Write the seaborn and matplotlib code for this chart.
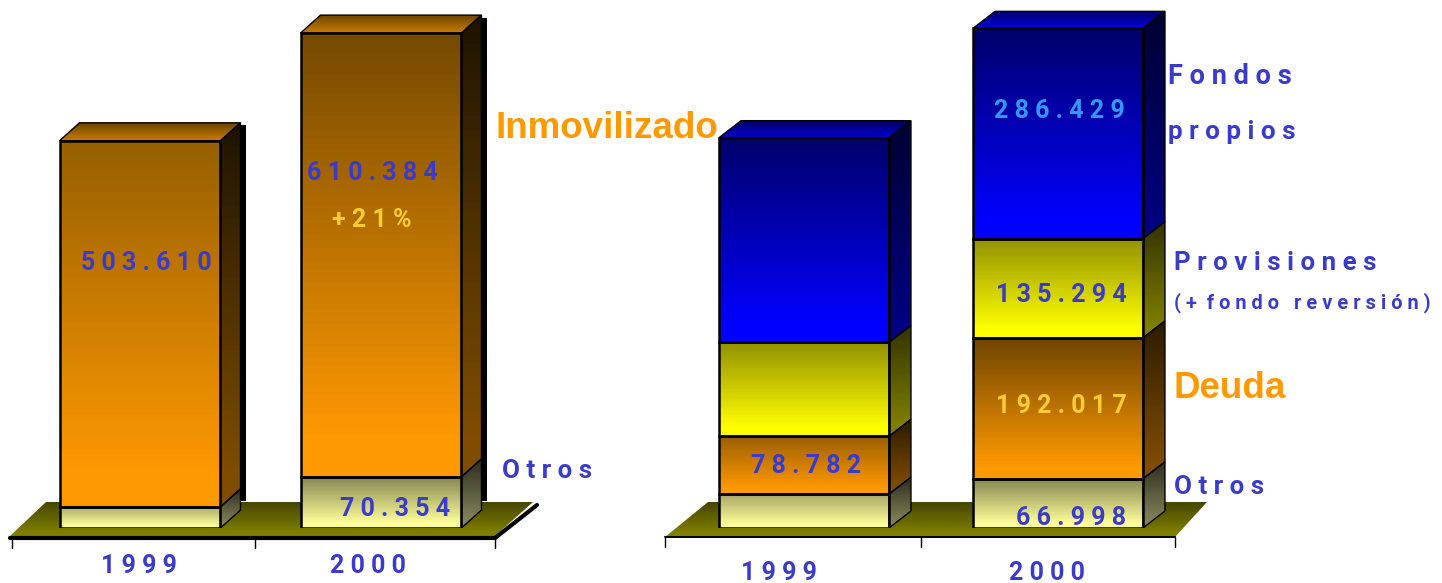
import numpy as np
import pandas as pd
import seaborn as sns
import matplotlib.pyplot as plt
from matplotlib.colors import LinearSegmentedColormap
from matplotlib.patches import Polygon

W, H = 1442, 583

years = ['1999', '2000']

# miles de millones
activo_otros = [29.0, 70.354]
activo_inmov = [503.610, 610.384]

pasivo_otros = [46.0, 66.998]
pasivo_deuda = [78.782, 192.017]
pasivo_provisiones = [128.0, 135.294]
pasivo_fondos = [279.0, 286.429]

# colores: frente arriba (1999, 2000), frente abajo, lateral (arriba, abajo), techo (fondo, delante)
C_OTROS = (('#a8a868', '#858552'), '#ffff99', '#2e2e20', '#85855a', None, None)
C_INMOV = (('#966000', '#754a00'), '#ff9900', '#1f1400', '#804d00', '#704600', '#c27800')
C_DEUDA = (('#9c5f00', '#704600'), '#ff9900', '#2c1c00', '#804d00', None, None)
C_YELLOW = (('#929200', '#929200'), '#ffff00', '#333300', '#808000', None, None)
C_BLUE = (('#00006b', '#00006b'), '#0000ff', '#000033', '#000080', '#000066', '#0000cc')

BLUE = '#3a3acb'
GOLD = '#ffcc33'
ORANGE = '#ff9900'

sns.set_style('white')
plt.rcParams['font.family'] = ['Roboto', 'DejaVu Sans']

fig = plt.figure(figsize=(W / 100, H / 100), dpi=100)


def make_axes(x0, y0, x1, y1, zorder=1):
    ax = fig.add_axes([x0 / W, 1 - y1 / H, (x1 - x0) / W, (y1 - y0) / H], zorder=zorder)
    ax.patch.set_alpha(0)
    return ax


def gradient(ax, verts, c_top, c_bottom, zorder):
    # degradado vertical recortado a un poligono
    cmap = LinearSegmentedColormap.from_list('g', [(0, c_top), (0.92, c_bottom), (1, c_bottom)])
    xs = [v[0] for v in verts]
    ys = [v[1] for v in verts]
    low, high = min(ys), max(ys)
    extent = [min(xs), max(xs), low, high]
    if ax.yaxis_inverted():
        extent = [min(xs), max(xs), high, low]
    im = ax.imshow(np.linspace(0, 1, 64).reshape(-1, 1), cmap=cmap, extent=extent,
                   aspect='auto', origin='upper', interpolation='nearest', zorder=zorder)
    im.set_clip_path(Polygon(verts, closed=True, transform=ax.transData))


def stacked(ax, segments, colors, width, dx, dy, shadow=0):
    lims = ax.get_xlim(), ax.get_ylim()
    cum = np.zeros(len(years))
    for i, (seg, col) in enumerate(zip(segments, colors)):
        top = cum + np.array(seg)
        df = pd.DataFrame({'year': years, 'top': top})
        n_before = len(ax.patches)
        sns.barplot(data=df, x='year', y='top', color=col[1], width=width, ax=ax,
                    edgecolor='black', linewidth=1.8, zorder=5)
        for k, (patch, b, t) in enumerate(zip(ax.patches[n_before:], cum, top)):
            x0 = patch.get_x()
            x1 = x0 + patch.get_width()
            patch.set_y(b)
            patch.set_height(t - b)
            patch.set_facecolor('none')
            gradient(ax, [(x0, b), (x1, b), (x1, t), (x0, t)], col[0][k], col[1], 3)
            side = [(x1, b), (x1 + dx, b + dy), (x1 + dx, t + dy), (x1, t)]
            gradient(ax, side, col[2], col[3], 3)
            ax.add_patch(Polygon(side, closed=True, fc='none', ec='black', lw=1, zorder=4))
            if i == len(segments) - 1:
                roof = [(x0, t), (x1, t), (x1 + dx, t + dy), (x0 + dx, t + dy)]
                gradient(ax, roof, col[4], col[5], 3)
                ax.add_patch(Polygon(roof, closed=True, fc='none', ec='black', lw=1, zorder=4))
                if shadow:
                    # franja negra detras de toda la columna, hasta el suelo
                    ax.fill_between([x1 + dx, x1 + dx + shadow], dy * 1.5, t + dy * 0.85,
                                    color='black', lw=0, zorder=2)
        cum = top
    ax.set_xlim(lims[0])
    ax.set_ylim(lims[1])
    ax.set_axis_off()


# suelo y ejes, en pixeles
bg = make_axes(0, 0, W, H, zorder=0)
bg.set_xlim(0, W)
bg.set_ylim(H, 0)
bg.set_axis_off()
gradient(bg, [(10, 536), (46, 502), (533, 502), (495, 536)], '#474700', '#808000', 1)
gradient(bg, [(665, 537), (708, 502), (1207, 502), (1175, 537)], '#474700', '#808000', 1)
bg.plot([495, 537], [538, 505], color='black', lw=3, zorder=2)
bg.plot([10, 495], [538, 538], color='black', lw=3, zorder=2)
bg.plot([665, 1175], [537, 537], color='black', lw=1.4, zorder=2)
for x in [12, 255, 495]:
    bg.plot([x, x], [537, 548], color='black', lw=1, zorder=2)
for x in [665, 921, 1175]:
    bg.plot([x, x], [537, 547], color='black', lw=1, zorder=2)

# activo
ax1 = make_axes(0, 0, 620, 528)
scale1 = 0.727
ax1.set_xlim((0 - 140) / 241, (620 - 140) / 241)
ax1.set_ylim(0, 528 / scale1)
stacked(ax1, [activo_otros, activo_inmov], [C_OTROS, C_INMOV], 0.668, 20 / 241, 18 / scale1, shadow=6 / 241)

# pasivo
ax2 = make_axes(640, 0, 1300, 528)
scale2 = 0.734
ax2.set_xlim((640 - 804) / 254, (1300 - 804) / 254)
ax2.set_ylim(0, 528 / scale2)
stacked(ax2, [pasivo_otros, pasivo_deuda, pasivo_provisiones, pasivo_fondos],
        [C_OTROS, C_DEUDA, C_YELLOW, C_BLUE], 0.669, 22 / 254, 17 / scale2)


def spaced(s):
    return ' '.join(s)


def label(x, y, s, color=BLUE, size=18, ha='center', weight='bold', family=None):
    fig.text(x / W, 1 - y / H, s, color=color, fontsize=size, ha=ha, va='center', zorder=10,
             weight=weight, family=family)


def money(v):
    return spaced(f'{v:.3f}')


BIG = dict(color=ORANGE, size=26.5, ha='left', weight='bold', family=['Liberation Sans', 'DejaVu Sans'])

label(146, 263, money(activo_inmov[0]))
label(372, 173, money(activo_inmov[1]))
label(372, 220, spaced('+21%'), color=GOLD)
label(395, 509, money(activo_otros[1]))
label(502, 471, spaced('Otros'), ha='left', size=18.6)
label(496, 128, 'Inmovilizado', **BIG)

label(806, 466, money(pasivo_deuda[0]))
label(1059, 111, money(pasivo_fondos[1]), color='#3399ff')
label(1061, 295, money(pasivo_provisiones[1]))
label(1061, 406, money(pasivo_deuda[1]), color=GOLD)
label(1071, 518, money(pasivo_otros[1]))
label(1168, 77, spaced('Fondos'), ha='left', size=19.5)
label(1168, 132, spaced('propios'), ha='left', size=18.8)
label(1174, 263, spaced('Provisiones'), ha='left', size=18.6)
label(1174, 303, '( +  f o n d o   r e v e r s i ó n )', size=14.4, ha='left')
label(1174, 388, 'Deuda', **BIG)
label(1174, 487, spaced('Otros'), ha='left', size=18.6)

for x, y, yr in [(139, 566, years[0]), (368, 566, years[1]), (779, 573, years[0]), (1047, 573, years[1])]:
    label(x, y, spaced(yr))

fig.savefig('out.png', dpi=100)
